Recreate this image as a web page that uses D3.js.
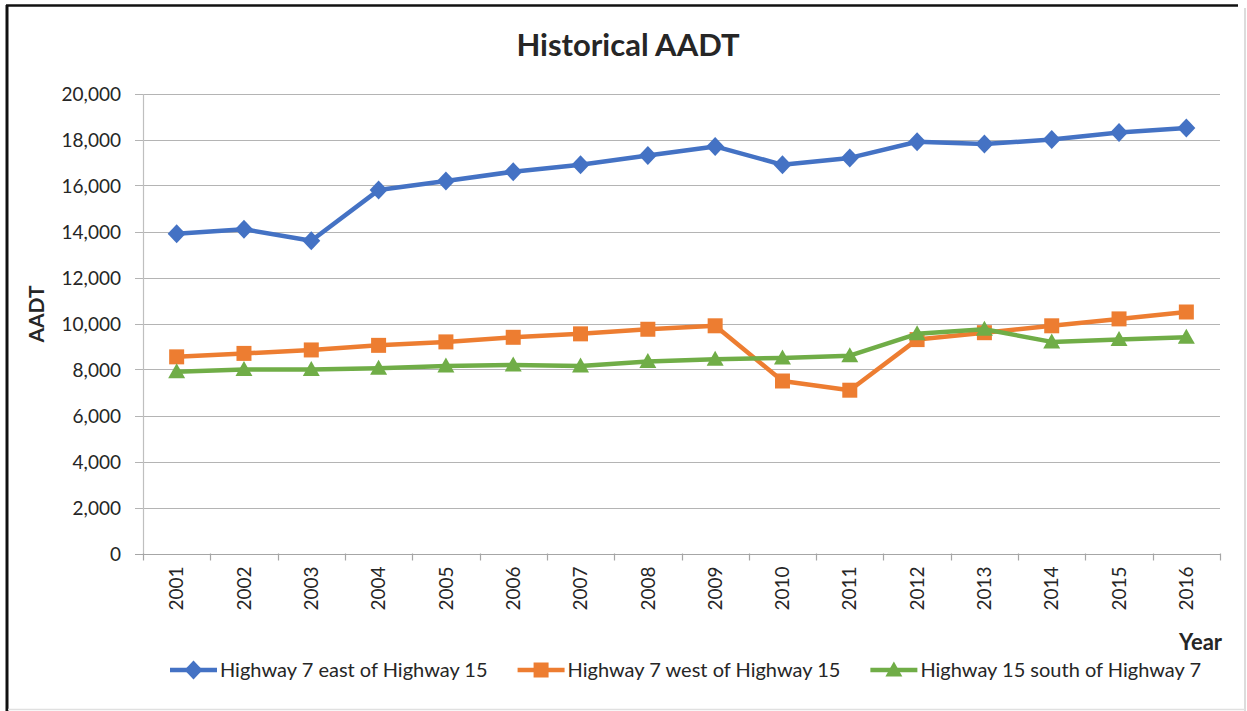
<!DOCTYPE html>
<html>
  <head>
    <meta charset="UTF-8" />
    <style>
      body {
        margin: 0;
        background: #fff;
      }
      text {
        font-family: Lato, "Open Sans", sans-serif;
        fill: #262626;
      }
    </style>
  </head>
  <body>
    <svg></svg>
    <script src="https://d3js.org/d3.v7.min.js"></script>
    <script>
      let width = 1247,
        height = 711;

      // chart data
      const years = [
        "2001", "2002", "2003", "2004", "2005", "2006", "2007", "2008",
        "2009", "2010", "2011", "2012", "2013", "2014", "2015", "2016",
      ];
      const eastOf15 = [
        13900, 14100, 13600, 15800, 16200, 16600, 16900, 17300,
        17700, 16900, 17200, 17900, 17800, 18000, 18300, 18500,
      ];
      const westOf15 = [
        8550, 8700, 8850, 9050, 9200, 9400, 9550, 9750,
        9900, 7500, 7100, 9300, 9600, 9900, 10200, 10500,
      ];
      const southOf7 = [
        7900, 8000, 8000, 8050, 8150, 8200, 8150, 8350,
        8450, 8500, 8600, 9550, 9750, 9200, 9300, 9400,
      ];
      const seriesNames = [
        "Highway 7 east of Highway 15",
        "Highway 7 west of Highway 15",
        "Highway 15 south of Highway 7",
      ];
      const yTicks = [0, 2000, 4000, 6000, 8000, 10000, 12000, 14000, 16000, 18000, 20000];

      const series = [
        { name: seriesNames[0], values: eastOf15, color: "#4472c4", shape: "diamond" },
        { name: seriesNames[1], values: westOf15, color: "#ed7d31", shape: "square" },
        { name: seriesNames[2], values: southOf7, color: "#70ad47", shape: "triangle" },
      ];

      let svg = d3.select("svg").attr("width", width).attr("height", height);

      // frame like the screenshot
      svg.append("rect").attr("width", width).attr("height", height).attr("fill", "#fff");
      svg.append("line").attr("x1", 6).attr("x2", 1238).attr("y1", 5.5).attr("y2", 5.5)
        .attr("stroke", "#111").attr("stroke-width", 2.5);
      svg.append("line").attr("x1", 7).attr("x2", 7).attr("y1", 5).attr("y2", height)
        .attr("stroke", "#111").attr("stroke-width", 3);
      svg.append("line").attr("x1", 1245).attr("x2", 1245).attr("y1", 8).attr("y2", height)
        .attr("stroke", "#d0d0d0").attr("stroke-width", 1.5);
      svg.append("line").attr("x1", 8).attr("x2", 1245).attr("y1", 709.5).attr("y2", 709.5)
        .attr("stroke", "#e0e0e0").attr("stroke-width", 1.5);

      const plotLeft = 143, plotRight = 1220, plotTop = 93.5, plotBottom = 553.5;

      let x = d3.scaleBand().domain(years).range([plotLeft, plotRight]);
      let y = d3.scaleLinear().domain([0, 20000]).range([plotBottom, plotTop]);

      // gridlines
      svg.append("g")
        .selectAll("line")
        .data(yTicks)
        .enter()
        .append("line")
        .attr("x1", plotLeft - 8)
        .attr("x2", plotRight)
        .attr("y1", (d) => Math.round(y(d)) + 0.5)
        .attr("y2", (d) => Math.round(y(d)) + 0.5)
        .attr("stroke", (d) => (d === 0 ? "#a6a6a6" : "#b4b4b4"))
        .attr("stroke-width", 1.2);

      // y axis
      let yAxis = d3.axisLeft(y).tickValues(yTicks).tickSize(0).tickPadding(22)
        .tickFormat(d3.format(","));
      let yg = svg.append("g").attr("transform", "translate(" + plotLeft + ",0)").call(yAxis);
      yg.select(".domain").attr("stroke", "#bfbfbf").attr("stroke-width", 1.2);
      yg.selectAll("text").style("font-size", "19px").attr("fill", "#262626")
        .attr("dy", "0.36em");

      // x axis
      let xAxis = d3.axisBottom(x).tickSize(0).tickSizeOuter(0);
      let xg = svg.append("g").attr("transform", "translate(0," + plotBottom + ")").call(xAxis);
      xg.select(".domain").remove();
      xg.selectAll("text")
        .style("font-size", "19px")
        .attr("fill", "#262626")
        .attr("transform", "rotate(-90)")
        .attr("text-anchor", "end")
        .attr("x", -13)
        .attr("y", 0)
        .attr("dy", "0.35em");

      // category boundary ticks
      let bounds = years.map((d) => x(d)).concat([x(years[years.length - 1]) + x.bandwidth()]);
      svg.append("g")
        .selectAll("line")
        .data(bounds)
        .enter()
        .append("line")
        .attr("x1", (d) => Math.round(d) + 0.5)
        .attr("x2", (d) => Math.round(d) + 0.5)
        .attr("y1", plotBottom)
        .attr("y2", plotBottom + 7)
        .attr("stroke", "#a6a6a6")
        .attr("stroke-width", 1.2);

      function markerPath(shape) {
        if (shape === "diamond") return "M0,-9.5L9,0L0,9.5L-9,0Z";
        if (shape === "square") return "M-7.5,-7.5L7.5,-7.5L7.5,7.5L-7.5,7.5Z";
        return "M0,-8.5L8.5,6.5L-8.5,6.5Z";
      }

      let line = d3.line()
        .x((d, i) => x(years[i]) + x.bandwidth() / 2)
        .y((d) => y(d));

      series.forEach((s) => {
        svg.append("path")
          .datum(s.values)
          .attr("fill", "none")
          .attr("stroke", s.color)
          .attr("stroke-width", 4.5)
          .attr("stroke-linejoin", "round")
          .attr("d", line);

        svg.append("g")
          .selectAll("path")
          .data(s.values)
          .enter()
          .append("path")
          .attr("d", markerPath(s.shape))
          .attr("fill", s.color)
          .attr("transform", (d, i) =>
            "translate(" + (x(years[i]) + x.bandwidth() / 2) + "," + y(d) + ")");
      });

      // titles
      svg.append("text")
        .attr("x", 628)
        .attr("y", 56)
        .attr("text-anchor", "middle")
        .style("font-size", "31px")
        .style("font-weight", "bold")
        .attr("fill", "#111")
        .text("Historical AADT");

      svg.append("text")
        .attr("transform", "translate(44,314) rotate(-90)")
        .attr("text-anchor", "middle")
        .style("font-size", "21px")
        .style("font-weight", "bold")
        .attr("fill", "#111")
        .text("AADT");

      svg.append("text")
        .attr("x", 1222)
        .attr("y", 650)
        .attr("text-anchor", "end")
        .style("font-size", "22px")
        .style("font-weight", "bold")
        .attr("fill", "#111")
        .text("Year");

      // legend
      let legend = svg.append("g").attr("class", "legend");
      let lx = 170;
      series.forEach((s) => {
        let g = legend.append("g").attr("transform", "translate(" + lx + ",670)");
        g.append("line").attr("x1", 0).attr("x2", 47).attr("y1", 0).attr("y2", 0)
          .attr("stroke", s.color).attr("stroke-width", 4.5);
        g.append("path").attr("d", markerPath(s.shape)).attr("fill", s.color)
          .attr("transform", "translate(23.5,0)");
        let t = g.append("text")
          .attr("x", 50)
          .attr("y", 7)
          .style("font-size", "20px")
          .attr("fill", "#262626")
          .text(s.name);
        lx += 50 + t.node().getComputedTextLength() + 30;
      });
    </script>
  </body>
</html>
